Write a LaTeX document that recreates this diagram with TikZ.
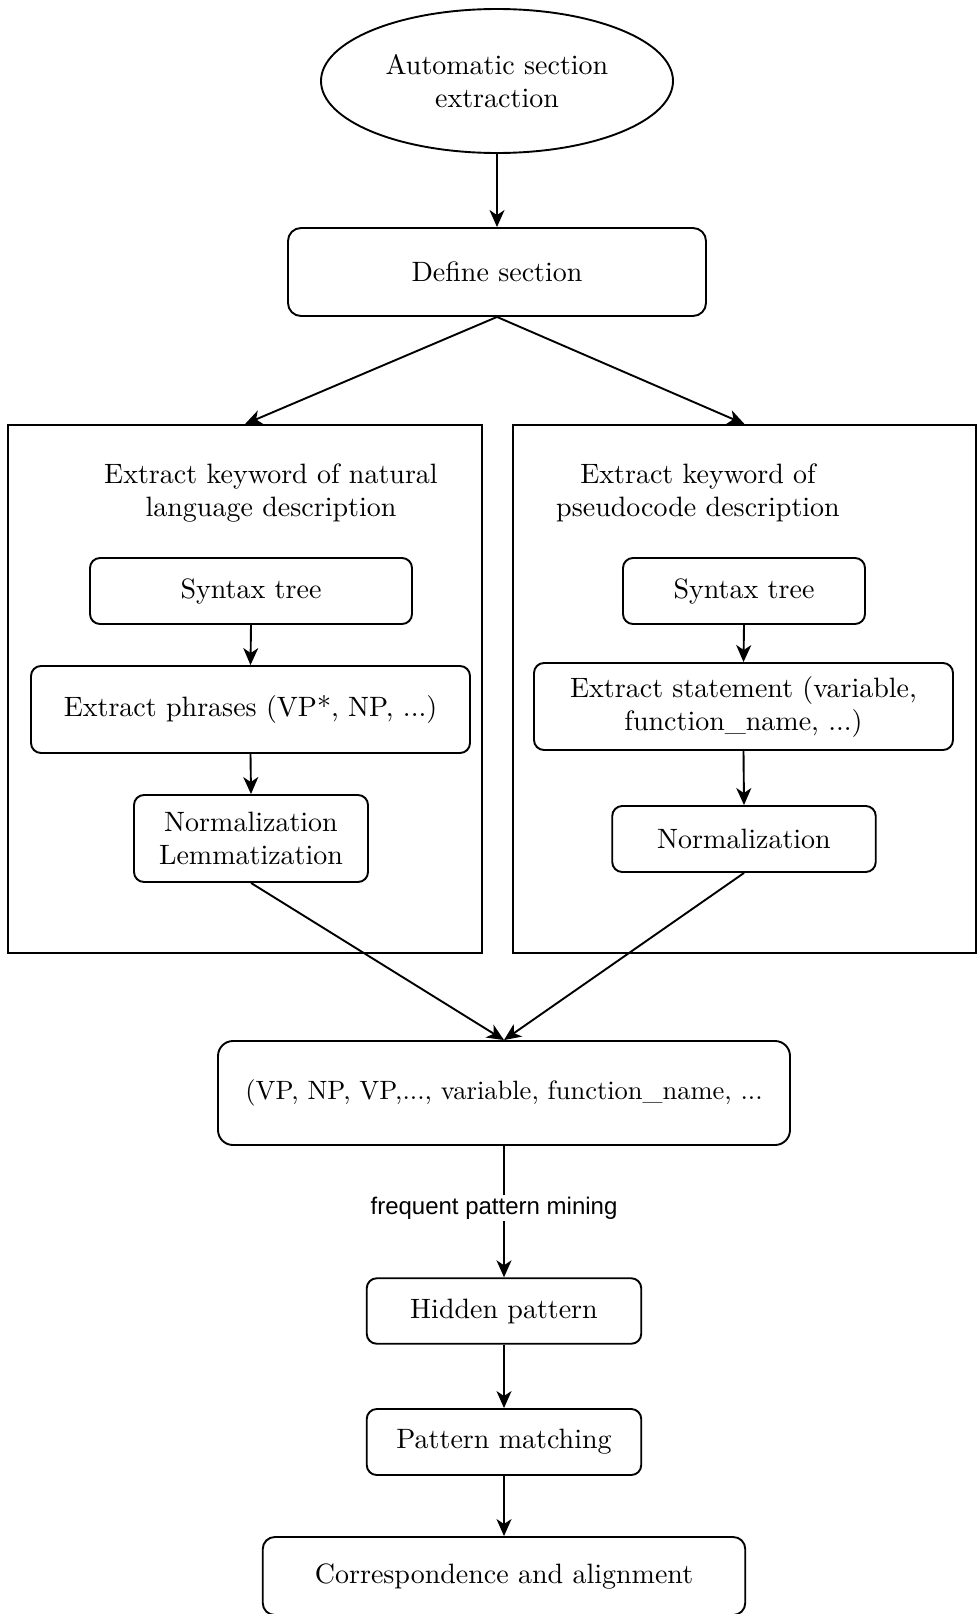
\documentclass[tikz,border=0pt]{standalone}
\usepackage{fontspec}
\setmainfont{lmroman10-regular.otf}
\newfontfamily\labelfont{Liberation Sans}
\usetikzlibrary{shapes.geometric, arrows.meta}

\tikzset{
  txt/.style={font=\fontsize{28}{33}\selectfont, align=center, inner sep=0pt},
  box/.style={txt, draw, line width=1.9pt, rounded corners=10pt},
  frame/.style={draw, line width=1.9pt, inner sep=0pt},
  flow/.style={-{Stealth[length=17pt,width=15pt,inset=5pt]}, line width=1.9pt},
}

\begin{document}
\begin{tikzpicture}[x=1pt, y=-1pt]
\useasboundingbox (0,0) rectangle (977,1614);

% start of the process
\node[txt, draw, line width=1.9pt, ellipse, minimum width=352, minimum height=144]
  (start) at (497,81) {Automatic section\\extraction};
\node[box, rounded corners=13pt, minimum width=418, minimum height=88]
  (define) at (497,272) {Define section};

% two keyword extraction branches
\node[frame, minimum width=474, minimum height=528] (lc) at (245,689) {};
\node[frame, minimum width=463, minimum height=528] (rc) at (744.5,689) {};

\node[txt] (ltitle) at (271,493) {Extract keyword of natural\\language description};
\node[txt] (rtitle) at (698,493) {Extract keyword of\\pseudocode description};

\node[box, minimum width=322, minimum height=66] (ls1) at (251,591) {Syntax tree};
\node[box, minimum width=439, minimum height=87] (ls2) at (250.5,709.5) {Extract phrases (VP*, NP, ...)};
\node[box, minimum width=234, minimum height=87] (ls3) at (251,838.5) {Normalization\\Lemmatization};

\node[box, minimum width=242, minimum height=66] (rs1) at (744,591) {Syntax tree};
\node[box, minimum width=419, minimum height=87] (rs2) at (743.5,706.5) {Extract statement (variable,\\function\_name, ...)};
\node[box, minimum width=263.5, minimum height=66] (rs3) at (744,839) {Normalization};

% merged keywords and pattern stages
\node[box, rounded corners=15pt, minimum width=572, minimum height=104,
  font=\fontsize{26.5}{32}\selectfont]
  (merge) at (504,1093) {(VP, NP, VP,..., variable, function\_name, ...};
\node[box, minimum width=274.5, minimum height=65.5] (hidden) at (504,1311) {Hidden pattern};
\node[box, minimum width=274.5, minimum height=66] (pmatch) at (504,1442) {Pattern matching};
\node[box, rounded corners=12pt, minimum width=482.5, minimum height=78] (corr) at (504,1576) {Correspondence and alignment};

% connectors
\draw[flow] (start.south) -- (define.north);
\draw[flow] (define.south) -- (lc.north);
\draw[flow] (define.south) -- (rc.north);
\draw[flow] (ls1.south) -- (ls2.north);
\draw[flow] (ls2.south) -- (ls3.north);
\draw[flow] (rs1.south) -- (rs2.north);
\draw[flow] (rs2.south) -- (rs3.north);
\draw[flow] (ls3.south) -- (merge.north);
\draw[flow] (rs3.south) -- (merge.north);
\draw[flow] (merge.south) -- (hidden.north);
\node[fill=white, inner sep=2pt, font=\labelfont\fontsize{24}{28}\selectfont]
  (mining) at (494,1208) {frequent pattern mining};
\draw[flow] (hidden.south) -- (pmatch.north);
\draw[flow] (pmatch.south) -- (corr.north);
\end{tikzpicture}
\end{document}
